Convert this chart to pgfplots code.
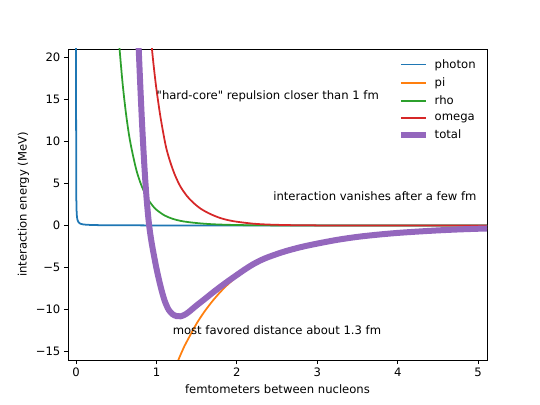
\documentclass[border=0pt]{standalone}
\usepackage{fontspec}
\setmainfont{DejaVu Sans}[Ligatures=TeXOff]
\usepackage{pgfplots}
\pgfplotsset{compat=1.18}
\definecolor{cphoton}{HTML}{1F77B4}
\definecolor{cpi}{HTML}{FF7F0E}
\definecolor{crho}{HTML}{2CA02C}
\definecolor{comega}{HTML}{D62728}
\definecolor{ctotal}{HTML}{9467BD}
\newcommand{\mfont}{\fontsize{11.66}{14}\selectfont}
\pgfplotsset{legend image code/.code={\draw[#1] (0bp,0bp) -- (25bp,0bp);}}
\begin{document}
\begin{tikzpicture}
\useasboundingbox (0,0) rectangle (540bp,405bp);
\begin{axis}[
  at={(68bp,45bp)}, anchor=south west,
  scale only axis, width=419bp, height=311bp,
  xmin=-0.1, xmax=5.11, ymin=-16, ymax=21,
  xtick={0,1,2,3,4,5}, xticklabels={0,1,2,3,4,5},
  ytick={-15,-10,-5,0,5,10,15,20},
  yticklabels={−15,−10,−5,0,5,10,15,20},
  tick align=outside, tick pos=left, major tick length=4.1bp,
  every tick/.style={black, line width=0.94bp},
  axis line style={line width=0.94bp},
  ticklabel style={font=\mfont},
  xlabel={femtometers between nucleons},
  ylabel={interaction energy (MeV)},
  label style={font=\mfont},
  xlabel style={at={(axis description cs:0.5,-0.1077)}, anchor=base},
  ylabel style={at={(axis description cs:-0.0986,0.5)}, anchor=base},
  legend style={at={(rel axis cs:0.7865,0.974)}, anchor=north west, draw=none, fill=none,
    font=\mfont, row sep=3.95bp, inner sep=0bp,
    /tikz/every odd column/.append style={column sep=4bp}},
  legend cell align=left,
]
\addplot[cphoton, line width=1.76bp] coordinates {
(0.0005,24) (0.0007,17.1) (0.001,12) (0.0015,8) (0.002,6) (0.003,4) (0.004,3)
(0.006,2) (0.008,1.5) (0.011,1.09) (0.015,0.8) (0.02,0.6) (0.03,0.4) (0.045,0.27)
(0.06,0.2) (0.09,0.13) (0.12,0.1) (0.18,0.067) (0.25,0.048) (0.5,0.024) (1,0.012)
(2,0.006) (3,0.004) (4,0.003) (5.2,0.0023)};
\addlegendentry{photon}
\addplot[cpi, line width=1.76bp, smooth] coordinates {
(1.10,-20.9) (1.20,-17.9) (1.27,-16.05) (1.35,-14.3) (1.40,-13.4) (1.50,-11.65)
(1.60,-10.2) (1.70,-8.95) (1.80,-7.85) (1.90,-6.9) (2.0,-6.1) (2.2,-4.75) (2.4,-3.8)
(2.6,-3.12) (2.8,-2.6) (3.0,-2.2) (3.5,-1.38) (4.0,-0.9) (4.5,-0.6) (5.0,-0.4) (5.2,-0.34)};
\addlegendentry{pi}
\addplot[crho, line width=1.76bp, smooth] coordinates {
(0.50,26.8) (0.52,23.8) (0.543,20.8) (0.58,16.8) (0.62,13.4) (0.66,10.7) (0.70,8.7)
(0.75,6.6) (0.80,5.1) (0.85,3.95) (0.90,3.05) (0.95,2.38) (1.00,1.87) (1.10,1.2)
(1.20,0.8) (1.30,0.55) (1.40,0.4) (1.55,0.25) (1.70,0.15) (1.90,0.08) (2.2,0.03)
(2.6,0.01) (3.0,0.003) (4.0,0.0005) (5.2,0.0)};
\addlegendentry{rho}
\addplot[comega, line width=1.76bp, smooth] coordinates {
(0.92,23.6) (0.946,20.8) (0.97,18.6) (1.00,16.2) (1.05,12.9) (1.115,9.5) (1.17,7.6)
(1.23,6.0) (1.30,4.6) (1.38,3.5) (1.45,2.78) (1.55,2.0) (1.667,1.38) (1.79,0.9)
(1.9,0.62) (2.0,0.45) (2.2,0.22) (2.4,0.11) (2.7,0.04) (3.0,0.015) (3.5,0.003)
(4.0,0.0006) (5.2,0.0)};
\addlegendentry{omega}
\addplot[ctotal, line width=6bp, smooth] coordinates {
(0.765,24.0) (0.78,20.8) (0.80,16.4) (0.82,12.3) (0.84,8.7) (0.86,5.5) (0.88,2.9)
(0.90,0.8) (0.92,-0.8) (0.95,-2.6) (1.00,-5.1) (1.05,-7.2) (1.10,-8.9) (1.15,-10.0)
(1.20,-10.55) (1.25,-10.78) (1.30,-10.8) (1.35,-10.62) (1.40,-10.3) (1.50,-9.5)
(1.60,-8.75) (1.70,-7.98) (1.80,-7.25) (1.90,-6.55) (2.00,-5.88) (2.10,-5.22)
(2.20,-4.62) (2.30,-4.12) (2.40,-3.72) (2.60,-3.07) (2.80,-2.56) (3.00,-2.15)
(3.25,-1.7) (3.50,-1.35) (3.75,-1.09) (4.00,-0.88) (4.25,-0.72) (4.50,-0.58)
(4.75,-0.47) (5.00,-0.385) (5.2,-0.33)};
\addlegendentry{total}
\node[anchor=base west, font=\mfont, inner sep=0pt] at (axis cs:1.0,15) {"hard-core" repulsion closer than 1 fm};
\node[anchor=base west, font=\mfont, inner sep=0pt] at (axis cs:2.45,3) {interaction vanishes after a few fm};
\node[anchor=base west, font=\mfont, inner sep=0pt] at (axis cs:1.2,-13) {most favored distance about 1.3 fm};
\end{axis}
\end{tikzpicture}
\end{document}
